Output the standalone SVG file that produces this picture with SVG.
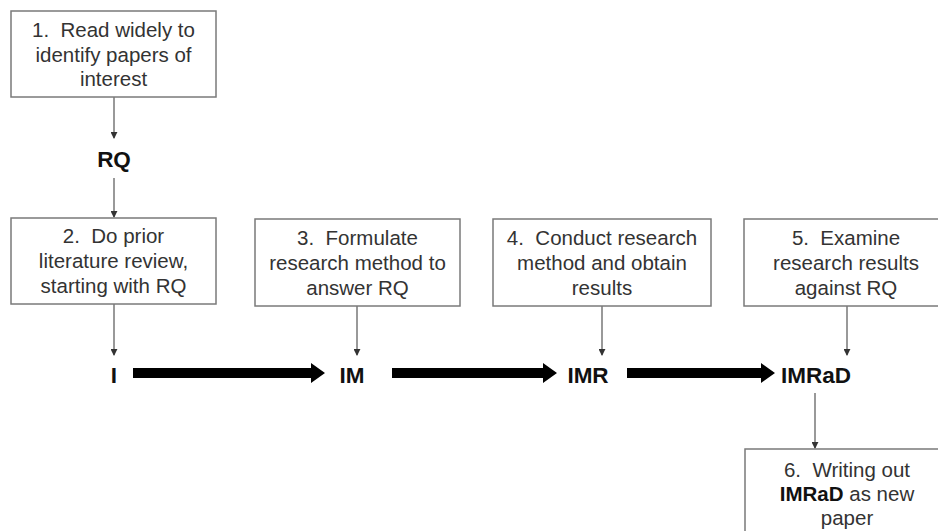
<svg xmlns="http://www.w3.org/2000/svg" width="938" height="531" viewBox="0 0 938 531">
<defs>
<style>
.box{fill:#fff;stroke:#7a7a7a;stroke-width:1.5}
.t{font-family:"Liberation Sans",Arial,sans-serif;font-size:20.5px;fill:#333;text-anchor:middle}
.b{font-family:"Liberation Sans",Arial,sans-serif;font-size:22.5px;font-weight:bold;fill:#111;text-anchor:middle}
.thin{stroke:#555;stroke-width:1.2;fill:none;marker-end:url(#ah)}
.thick{fill:#000}
</style>
<marker id="ah" viewBox="0 0 8 8" refX="7" refY="4" markerWidth="7" markerHeight="7" markerUnits="userSpaceOnUse" orient="auto">
<path d="M0,0 L8,4 L0,8 Z" fill="#333"/>
</marker>
</defs>
<g id="connectors">
<line class="thin" x1="114" y1="97" x2="114" y2="138"/>
<line class="thin" x1="114" y1="178" x2="114" y2="217"/>
<line class="thin" x1="114" y1="304" x2="114" y2="355"/>
<line class="thin" x1="357" y1="306" x2="357" y2="355"/>
<line class="thin" x1="602" y1="306" x2="602" y2="355"/>
<line class="thin" x1="847" y1="306" x2="847" y2="355"/>
<line class="thin" x1="815" y1="393" x2="815" y2="448"/>
<polygon class="thick" points="133,368 311,368 311,363 325,373 311,383 311,378 133,378"/>
<polygon class="thick" points="392,368 543,368 543,363 557,373 543,383 543,378 392,378"/>
<polygon class="thick" points="627,368 761,368 761,363 775,373 761,383 761,378 627,378"/>
</g>
<g id="n1">
<rect class="box" x="11" y="11" width="205" height="86"/>
<text class="t" x="113.5" y="37">1.&#160; Read widely to</text>
<text class="t" x="113.5" y="62">identify papers of</text>
<text class="t" x="113.5" y="86">interest</text>
</g>
<g id="rq"><text class="b" x="114" y="167">RQ</text></g>
<g id="n2">
<rect class="box" x="11" y="218" width="205" height="86"/>
<text class="t" x="113.5" y="243">2.&#160; Do prior</text>
<text class="t" x="113.5" y="268">literature review,</text>
<text class="t" x="113.5" y="293">starting with RQ</text>
</g>
<g id="n3">
<rect class="box" x="255" y="219" width="205" height="87"/>
<text class="t" x="357.5" y="245">3.&#160; Formulate</text>
<text class="t" x="357.5" y="270">research method to</text>
<text class="t" x="357.5" y="295">answer RQ</text>
</g>
<g id="n4">
<rect class="box" x="493" y="219" width="218" height="87"/>
<text class="t" x="602" y="245">4.&#160; Conduct research</text>
<text class="t" x="602" y="270">method and obtain</text>
<text class="t" x="602" y="295">results</text>
</g>
<g id="n5">
<rect class="box" x="744" y="219" width="205" height="87"/>
<text class="t" x="846" y="245">5.&#160; Examine</text>
<text class="t" x="846" y="270">research results</text>
<text class="t" x="846" y="295">against RQ</text>
</g>
<g id="i"><text class="b" x="114" y="383">I</text></g>
<g id="im"><text class="b" x="352" y="383">IM</text></g>
<g id="imr"><text class="b" x="588" y="383">IMR</text></g>
<g id="imrad"><text class="b" x="816" y="383">IMRaD</text></g>
<g id="n6">
<rect class="box" x="745" y="449" width="205" height="110"/>
<text class="t" x="847" y="477">6.&#160; Writing out</text>
<text class="t" x="847" y="501"><tspan font-weight="bold" fill="#111">IMRaD</tspan> as new</text>
<text class="t" x="847" y="525">paper</text>
</g>
</svg>
